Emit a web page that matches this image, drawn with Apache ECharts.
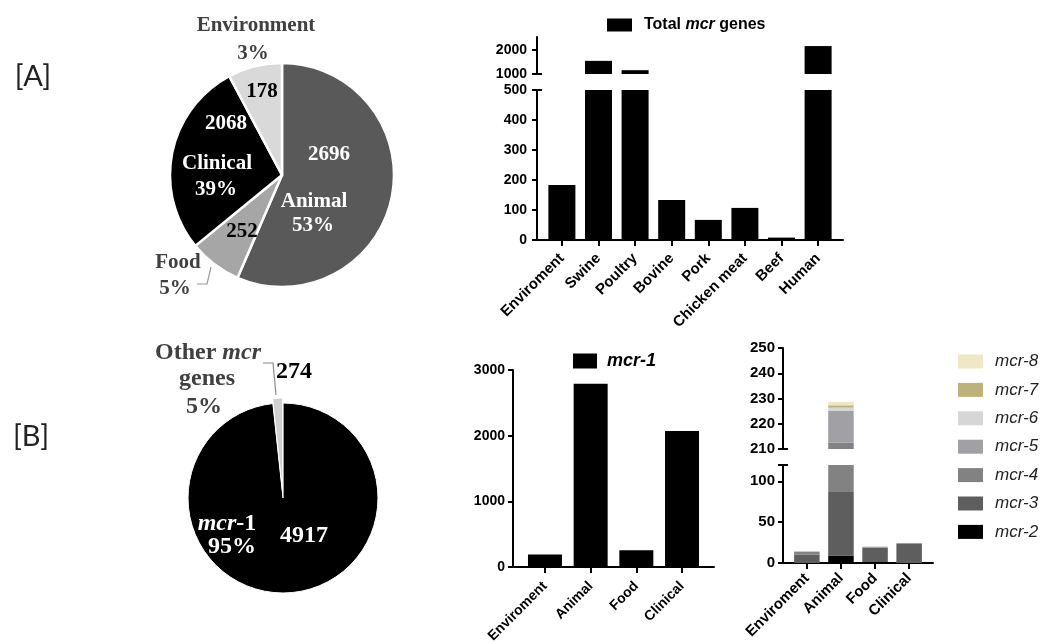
<!DOCTYPE html>
<html><head><meta charset="utf-8">
<script src="https://cdn.jsdelivr.net/npm/echarts@6/dist/echarts.min.js"></script>
<style>html,body{margin:0;padding:0;background:#fff}#c{width:1043px;height:644px}</style>
</head><body><div id="c"></div>
<script>
// ---------- DATA ----------
// Panel A pie (slice sizes as drawn in the picture, labels as printed)
const pieANames = ['Animal', 'Food', 'Clinical', 'Environment'];
const pieAShares = [56.5, 7.6, 28.1, 7.8];
const pieACounts = ['2696', '252', '2068', '178'];
const pieAPercents = ['53%', '5%', '39%', '3%'];
// Panel A bars (broken axis)
const catsA = ['Enviroment', 'Swine', 'Poultry', 'Bovine', 'Pork', 'Chicken meat', 'Beef', 'Human'];
const totalMcr = [183, 1550, 1160, 133, 67, 107, 8, 2170];
const yTicksAUp = [1000, 2000];
const yTicksALow = [0, 100, 200, 300, 400, 500];
// Panel B pie
const pieBNames = ['mcr-1', 'Other mcr genes'];
const pieBShares = [98.3, 1.7];
const pieBCounts = ['4917', '274'];
const pieBPercents = ['95%', '5%'];
// Panel B mcr-1 bars
const catsB = ['Enviroment', 'Animal', 'Food', 'Clinical'];
const mcr1 = [190, 2790, 255, 2070];
const yTicksB1 = [0, 1000, 2000, 3000];
// Panel B other mcr genes (stacked, broken axis)
const geneNames = ['mcr-2', 'mcr-3', 'mcr-4', 'mcr-5', 'mcr-6', 'mcr-7', 'mcr-8'];
const mcr2 = [0, 9, 2, 0];
const mcr3 = [10, 79, 16.5, 24];
const mcr4 = [4, 124.5, 0, 0];
const mcr5 = [0, 12.7, 1.5, 0];
const mcr6 = [0, 1.2, 0, 0];
const mcr7 = [0, 0.9, 0, 0];
const mcr8 = [0, 1.4, 0, 0];
const geneValues = [mcr2, mcr3, mcr4, mcr5, mcr6, mcr7, mcr8];
const yTicksB2Up = [210, 220, 230, 240, 250];
const yTicksB2Low = [0, 50, 100];

// ---------- STYLE ----------
const SANS = 'Liberation Sans', SERIF = 'Liberation Serif';
const pieAColors = ['#595959', '#a6a6a6', '#000000', '#d9d9d9'];
const pieBColors = ['#000000', '#d0d0d0'];
const geneColors = ['#000000', '#5e5e5e', '#828282', '#a0a0a5', '#d6d6d6', '#bdb27a', '#efe7c6'];

const chart = echarts.init(document.getElementById('c'));

function valAxis(o) {
  const fs = o.fs || 14;
  return {
    type: 'value', gridIndex: o.grid, min: o.min, max: o.max, show: o.show !== false,
    position: o.pos, offset: 0,
    axisLine: { show: o.line !== false, onZero: false, lineStyle: { color: '#000', width: 2 } },
    axisTick: { show: !!o.ticks, inside: !!o.inside, length: o.tlen || 5, customValues: o.ticks,
      lineStyle: { color: '#000', width: 2 } },
    axisLabel: { show: !!o.labels, customValues: o.labels, margin: o.margin || 8, rotate: o.rotate || 0,
      color: '#000', fontFamily: SANS, fontWeight: 'bold', fontSize: fs,
      formatter: o.fmt || (v => String(v)) },
    splitLine: { show: false }
  };
}
const idxA = catsA.map((c, i) => i);
const idxB = catsB.map((c, i) => i);

const xAxis = [
  valAxis({ grid: 0, min: -0.68, max: 7.68, show: false }),
  valAxis({ grid: 1, min: -0.68, max: 7.68, pos: 'bottom', ticks: idxA, labels: idxA, rotate: 45, margin: 16, tlen: 6, fs: 15, fmt: v => catsA[v] }),
  valAxis({ grid: 2, min: -0.7, max: 3.7, pos: 'bottom', ticks: idxB, labels: idxB, rotate: 45, margin: 17, tlen: 6, fs: 14, fmt: v => catsB[v] }),
  valAxis({ grid: 3, min: -0.7, max: 3.7, show: false }),
  valAxis({ grid: 4, min: -0.7, max: 3.7, pos: 'bottom', ticks: idxB, labels: idxB, rotate: 45, margin: 13, tlen: 6, fs: 15, fmt: v => catsB[v] })
];
const yAxis = [
  valAxis({ grid: 0, min: 1000, max: 2550, pos: 'left', ticks: yTicksAUp, labels: yTicksAUp, margin: 10 }),
  valAxis({ grid: 1, min: 0, max: 500, pos: 'left', ticks: yTicksALow, labels: yTicksALow, margin: 10 }),
  valAxis({ grid: 2, min: 0, max: 3000, pos: 'left', ticks: yTicksB1, labels: yTicksB1, margin: 8 }),
  valAxis({ grid: 3, min: 210, max: 250, pos: 'left', ticks: yTicksB2Up, labels: yTicksB2Up, margin: 8, fs: 15 }),
  valAxis({ grid: 4, min: 0, max: 120, pos: 'left', ticks: yTicksB2Low.concat([120]), labels: yTicksB2Low, margin: 8, fs: 15 }),
  // break caps (inside ticks)
  valAxis({ grid: 0, min: 1000, max: 2550, pos: 'left', line: false, ticks: [1000], inside: true }),
  valAxis({ grid: 1, min: 0, max: 500, pos: 'left', line: false, ticks: [500], inside: true }),
  valAxis({ grid: 3, min: 210, max: 250, pos: 'left', line: false, ticks: [210], inside: true }),
  valAxis({ grid: 4, min: 0, max: 120, pos: 'left', line: false, ticks: [120], inside: true })
];

const series = [];
series.push({
  type: 'pie', center: [282, 175], radius: 112, startAngle: 90, clockwise: true, silent: true,
  label: { show: false }, labelLine: { show: false },
  itemStyle: { borderColor: '#fff', borderWidth: 2.5 },
  data: pieANames.map((n, i) => ({ name: n, value: pieAShares[i], itemStyle: { color: pieAColors[i] } }))
});
series.push({
  type: 'pie', center: [283, 498], radius: 95, startAngle: 90, clockwise: true, silent: true,
  selectedMode: 'single', selectedOffset: 5,
  label: { show: false }, labelLine: { show: false },
  itemStyle: { borderColor: '#fff', borderWidth: 1 },
  data: pieBNames.map((n, i) => ({ name: n, value: pieBShares[i], selected: i === 1, itemStyle: { color: pieBColors[i] } }))
});
// value first, category index second -> the value dimension is the stacked one
const pairs = (arr) => arr.map((v, i) => [v, i]);
const enc = { x: 1, y: 0 };
[0, 1].forEach(k => series.push({
  type: 'bar', name: 'Total mcr genes', xAxisIndex: k, yAxisIndex: k, clip: true, barWidth: 27, encode: enc,
  itemStyle: { color: '#000' }, data: pairs(totalMcr)
}));
series.push({
  type: 'bar', name: 'mcr-1', xAxisIndex: 2, yAxisIndex: 2, clip: true, barWidth: 34, encode: enc,
  itemStyle: { color: '#000' }, data: pairs(mcr1)
});
[3, 4].forEach(k => geneNames.forEach((g, gi) => series.push({
  type: 'bar', name: g, xAxisIndex: k, yAxisIndex: k, stack: 'st' + k, clip: true, barWidth: 25.5, encode: enc,
  itemStyle: { color: geneColors[gi] }, data: pairs(geneValues[gi])
})));

// ---------- TEXT ANNOTATIONS ----------
function t(text, x, y, size, fill) {
  return { type: 'text', z: 100, silent: true, style: { text, x, y, fill, font: 'bold ' + size + 'px "' + SERIF + '"', align: 'center', verticalAlign: 'middle' } };
}
function rt(text, x, y, size, fill) {
  return { type: 'text', z: 100, silent: true, style: { text, x, y, align: 'center', verticalAlign: 'middle',
    rich: {
      b: { fontFamily: SERIF, fontWeight: 'bold', fontSize: size, fill },
      i: { fontFamily: SERIF, fontWeight: 'bold', fontStyle: 'italic', fontSize: size, fill }
    } } };
}
const DG = '#404040';
const graphic = [
  { type: 'text', z: 100, silent: true, style: { text: '[A]', x: 33, y: 77, fill: '#222', font: '29px Lato', align: 'center', verticalAlign: 'middle' } },
  { type: 'text', z: 100, silent: true, style: { text: '[B]', x: 31, y: 437, fill: '#222', font: '29px Lato', align: 'center', verticalAlign: 'middle' } },
  // pie A
  t(pieANames[3], 256, 26, 21, DG), t(pieAPercents[3], 253, 54, 21, DG),
  t(pieACounts[3], 262, 92, 21, '#000'),
  t(pieACounts[2], 226, 124, 21, '#fff'),
  t(pieANames[2], 217, 164, 21, '#fff'), t(pieAPercents[2], 216, 190, 21, '#fff'),
  t(pieACounts[0], 329, 155, 21, '#fff'),
  t(pieANames[0], 314, 202, 21, '#fff'), t(pieAPercents[0], 313, 226, 21, '#fff'),
  t(pieACounts[1], 242, 232, 21, '#000'),
  t(pieANames[1], 178, 263, 21, DG), t(pieAPercents[1], 175, 289, 21, DG),
  { type: 'polyline', z: 100, silent: true, shape: { points: [[211, 267], [207, 284], [197, 284]] }, style: { stroke: '#9a9a9a', lineWidth: 1.2, fill: null } },
  // pie B
  rt('{b|Other }{i|mcr}', 208, 353, 24, DG), t('genes', 207, 379, 24, DG), t(pieBPercents[1], 204, 407, 24, DG),
  t(pieBCounts[1], 294, 372, 24, '#000'),
  { type: 'polyline', z: 100, silent: true, shape: { points: [[263, 363], [273, 363], [276, 395]] }, style: { stroke: '#8a8a8a', lineWidth: 1.2, fill: null } },
  rt('{i|mcr}{b|-1}', 227, 524, 24, '#fff'), t(pieBPercents[0], 232, 547, 24, '#fff'),
  t(pieBCounts[0], 304, 536, 24, '#fff')
];

chart.setOption({
  backgroundColor: '#fff',
  animation: false,
  grid: [
    { left: 537, top: 37, width: 306, height: 37, outerBoundsMode: 'none' },
    { left: 537, top: 90, width: 306, height: 150, outerBoundsMode: 'none' },
    { left: 513, top: 370, width: 201, height: 197, outerBoundsMode: 'none' },
    { left: 783, top: 348, width: 150, height: 101, outerBoundsMode: 'none' },
    { left: 783, top: 465, width: 150, height: 98, outerBoundsMode: 'none' }
  ],
  xAxis, yAxis, series, graphic,
  legend: [
    { data: ['Total mcr genes'], left: 607, top: 17, padding: 0, itemWidth: 25, itemHeight: 13, icon: 'rect', selectedMode: false,
      formatter: () => '{n|Total }{i|mcr}{n| genes}',
      textStyle: { padding: [0, 0, 0, 7], rich: {
        n: { fontFamily: SANS, fontWeight: 'bold', fontSize: 16, color: '#000' },
        i: { fontFamily: SANS, fontWeight: 'bold', fontStyle: 'italic', fontSize: 16, color: '#000' } } } },
    { data: ['mcr-1'], left: 573, top: 352, padding: 0, itemWidth: 24, itemHeight: 15, icon: 'rect', selectedMode: false,
      textStyle: { padding: [0, 0, 0, 5], fontFamily: SANS, fontWeight: 'bold', fontStyle: 'italic', fontSize: 18, color: '#000' } },
    { data: geneNames.slice().reverse(), orient: 'vertical', left: 958, top: 353, padding: 0, itemWidth: 25, itemHeight: 14,
      itemGap: 11.4, icon: 'rect', selectedMode: false,
      textStyle: { padding: [0, 0, 0, 7], fontFamily: SANS, fontStyle: 'italic', fontSize: 17, lineHeight: 14, color: '#222' } }
  ]
});
</script></body></html>
